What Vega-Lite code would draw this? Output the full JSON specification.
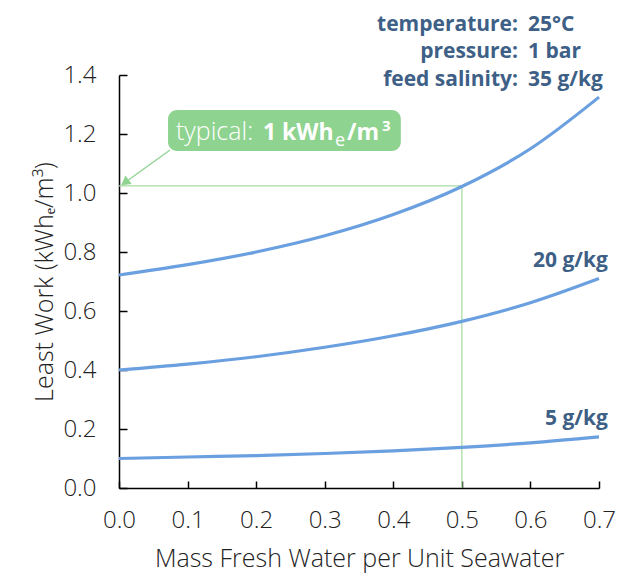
{
  "$schema": "https://vega.github.io/schema/vega-lite/v6.json",
  "width": 480,
  "height": 413,
  "autosize": {"type": "none"},
  "padding": {"left": 119, "top": 75, "right": 20, "bottom": 91},
  "background": "white",
  "config": {
    "view": {"stroke": null},
    "font": "Open Sans",
    "axis": {
      "grid": false,
      "domainColor": "#000000",
      "domainWidth": 1.5,
      "ticks": true,
      "tickColor": "#000000",
      "tickWidth": 1.5,
      "labelFont": "Open Sans",
      "labelFontWeight": 300,
      "labelFontSize": 24,
      "labelColor": "#222222",
      "titleFont": "Open Sans",
      "titleFontWeight": 300,
      "titleFontSize": 25,
      "titleColor": "#222222"
    }
  },
  "datasets": {
    "curves": [
      {"x": 0.0, "y": 0.722, "salinity": "35 g/kg"},
      {"x": 0.1, "y": 0.757, "salinity": "35 g/kg"},
      {"x": 0.2, "y": 0.800, "salinity": "35 g/kg"},
      {"x": 0.3, "y": 0.855, "salinity": "35 g/kg"},
      {"x": 0.4, "y": 0.927, "salinity": "35 g/kg"},
      {"x": 0.5, "y": 1.022, "salinity": "35 g/kg"},
      {"x": 0.6, "y": 1.150, "salinity": "35 g/kg"},
      {"x": 0.7, "y": 1.325, "salinity": "35 g/kg"},
      {"x": 0.0, "y": 0.400, "salinity": "20 g/kg"},
      {"x": 0.1, "y": 0.420, "salinity": "20 g/kg"},
      {"x": 0.2, "y": 0.445, "salinity": "20 g/kg"},
      {"x": 0.3, "y": 0.477, "salinity": "20 g/kg"},
      {"x": 0.4, "y": 0.516, "salinity": "20 g/kg"},
      {"x": 0.5, "y": 0.565, "salinity": "20 g/kg"},
      {"x": 0.6, "y": 0.628, "salinity": "20 g/kg"},
      {"x": 0.7, "y": 0.710, "salinity": "20 g/kg"},
      {"x": 0.0, "y": 0.100, "salinity": "5 g/kg"},
      {"x": 0.1, "y": 0.105, "salinity": "5 g/kg"},
      {"x": 0.2, "y": 0.110, "salinity": "5 g/kg"},
      {"x": 0.3, "y": 0.117, "salinity": "5 g/kg"},
      {"x": 0.4, "y": 0.126, "salinity": "5 g/kg"},
      {"x": 0.5, "y": 0.138, "salinity": "5 g/kg"},
      {"x": 0.6, "y": 0.153, "salinity": "5 g/kg"},
      {"x": 0.7, "y": 0.173, "salinity": "5 g/kg"}
    ],
    "guides": [
      {"x": 0.0, "x2": 0.5, "y": 1.024, "y2": 1.024},
      {"x": 0.5, "x2": 0.5, "y": 0.0, "y2": 1.024}
    ],
    "arrow": [
      {"x": 0.0086, "y": 1.0356, "x2": 0.0744, "y2": 1.1458}
    ],
    "box": [
      {"x": 0.0715, "x2": 0.411, "y": 1.142, "y2": 1.281}
    ],
    "boxtext": [
      {"x": 0.0831, "y": 1.1797}
    ],
    "conditions": [
      {"key": "temperature:", "value": "25°C", "x": 0.5819, "y": 1.549},
      {"key": "pressure:", "value": "1 bar", "x": 0.5819, "y": 1.458},
      {"key": "feed salinity:", "value": "35 g/kg", "x": 0.5819, "y": 1.363}
    ],
    "curvelabels": [
      {"label": "20 g/kg", "x": 0.713, "y": 0.749},
      {"label": "5 g/kg", "x": 0.713, "y": 0.2136}
    ]
  },
  "encoding": {
    "x": {
      "field": "x", "type": "quantitative",
      "scale": {"domain": [0, 0.7], "nice": false, "zero": false},
      "axis": {
        "title": "Mass Fresh Water per Unit Seawater",
        "values": [0, 0.1, 0.2, 0.3, 0.4, 0.5, 0.6, 0.7],
        "format": ".1f",
        "tickSize": -7,
        "labelPadding": 27,
        "titlePadding": 14,
        "labelFlush": false,
        "labelOverlap": false
      }
    },
    "y": {
      "field": "y", "type": "quantitative",
      "scale": {"domain": [0, 1.4], "nice": false, "zero": false},
      "axis": {
        "title": "Least Work (kWhₑ/m³)",
        "values": [0, 0.2, 0.4, 0.6, 0.8, 1.0, 1.2, 1.4],
        "format": ".1f",
        "tickSize": -8,
        "labelPadding": 31,
        "titlePadding": 5,
        "labelFlush": false,
        "labelOverlap": false
      }
    }
  },
  "layer": [
    {
      "data": {"name": "guides"},
      "mark": {"type": "rule", "color": "#a9dca2", "strokeWidth": 1.3},
      "encoding": {"x2": {"field": "x2"}, "y2": {"field": "y2"}}
    },
    {
      "data": {"name": "curves"},
      "mark": {"type": "line", "color": "#6a9fe0", "strokeWidth": 3.2, "interpolate": "monotone"},
      "encoding": {"detail": {"field": "salinity"}}
    },
    {
      "data": {"name": "arrow"},
      "mark": {"type": "rule", "color": "#8fd390", "strokeWidth": 1.3},
      "encoding": {"x2": {"field": "x2"}, "y2": {"field": "y2"}}
    },
    {
      "data": {"name": "arrow"},
      "mark": {"type": "point", "shape": "triangle-up", "filled": true, "color": "#8fd390", "opacity": 1, "size": 110, "angle": 234},
      "encoding": {}
    },
    {
      "data": {"name": "box"},
      "mark": {"type": "rect", "color": "#8fd390", "cornerRadius": 9},
      "encoding": {"x2": {"field": "x2"}, "y2": {"field": "y2"}}
    },
    {
      "data": {"name": "boxtext"},
      "layer": [
        {"mark": {"type": "text", "text": "typical:", "align": "left", "baseline": "alphabetic", "fontSize": 25, "fontWeight": 300, "color": "white", "dx": 0}},
        {"mark": {"type": "text", "text": "1 kWh", "align": "left", "baseline": "alphabetic", "fontSize": 23, "fontWeight": "bold", "color": "white", "dx": 87}},
        {"mark": {"type": "text", "text": "e", "align": "left", "baseline": "alphabetic", "fontSize": 18, "fontWeight": 400, "color": "white", "dx": 159, "dy": 6}},
        {"mark": {"type": "text", "text": "/m", "align": "left", "baseline": "alphabetic", "fontSize": 23, "fontWeight": "bold", "color": "white", "dx": 171}},
        {"mark": {"type": "text", "text": "3", "align": "left", "baseline": "alphabetic", "fontSize": 15, "fontWeight": "bold", "color": "white", "dx": 206, "dy": -9}}
      ]
    },
    {
      "data": {"name": "conditions"},
      "layer": [
        {
          "mark": {"type": "text", "align": "right", "baseline": "alphabetic", "fontSize": 21, "fontWeight": "bold", "color": "#3e5f86"},
          "encoding": {"text": {"field": "key"}}
        },
        {
          "mark": {"type": "text", "align": "left", "baseline": "alphabetic", "fontSize": 21, "fontWeight": "bold", "color": "#3e5f86", "dx": 10},
          "encoding": {"text": {"field": "value"}}
        }
      ]
    },
    {
      "data": {"name": "curvelabels"},
      "mark": {"type": "text", "align": "right", "baseline": "alphabetic", "fontSize": 21, "fontWeight": "bold", "color": "#3e5f86"},
      "encoding": {"text": {"field": "label"}}
    }
  ]
}
